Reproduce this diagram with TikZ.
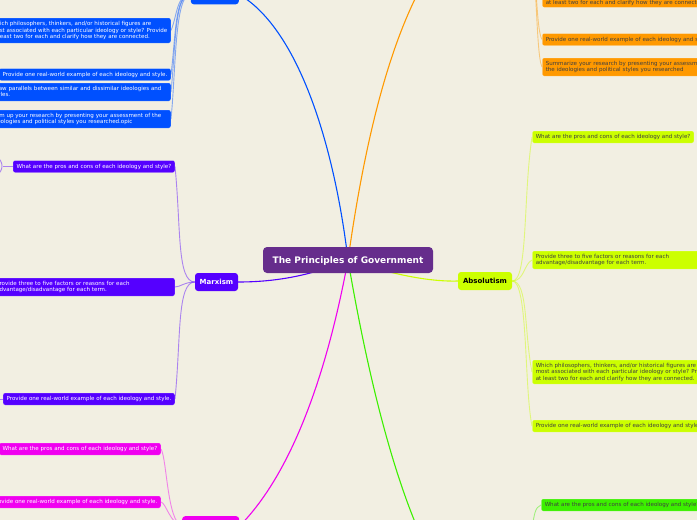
\documentclass[tikz,border=0pt]{standalone}
\usepackage{fontspec}
\setmainfont{DejaVu Sans}
\usetikzlibrary{backgrounds}
\definecolor{paper}{HTML}{F2EFE2}
\definecolor{rootcol}{HTML}{662D8C}
\definecolor{bluecol}{HTML}{0050FF}
\definecolor{purplecol}{HTML}{5500FF}
\definecolor{magentacol}{HTML}{F000F0}
\definecolor{orangecol}{HTML}{FF9900}
\definecolor{limecol}{HTML}{CCFF00}
\definecolor{greencol}{HTML}{3CF000}
\tikzset{
    leaf/.style={rounded corners=2, inner xsep=3.5, inner ysep=0, minimum height=12, align=left, draw=white, draw opacity=0.25, line width=0.5, font=\fontsize{5.55}{6.5}\selectfont},
    wide/.style={text width=175},
    topic/.style={rounded corners=3, minimum height=18, inner sep=0, text depth=0, font=\fontsize{7}{8}\selectfont\bfseries},
    dark/.style={text=black!75},
    main/.style={line width=1.1},
    twig/.style={line width=0.9, opacity=0.45}
}

\begin{document}
\begin{tikzpicture}[x=1pt, y=-1pt]
    \useasboundingbox (0, 0) rectangle (697, 520);
    \clip (0, 0) rectangle (697, 520);

    \node[rounded corners=4, fill=rootcol, text=white, minimum width=170, minimum height=26, inner sep=0, text depth=0, font=\fontsize{9}{10}\selectfont\bfseries] (root) at (348, 260) {The Principles of Government};

    \node[topic, fill=bluecol, minimum width=48, minimum height=20, anchor=south east] (blueTopic) at (239, 4.5) {};
    \node[topic, fill=purplecol, text=white, minimum width=43] (marxism) at (216.5, 282) {Marxism};
    \node[topic, fill=magentacol, minimum width=57, minimum height=20, anchor=north west] (magentaTopic) at (182, 516) {};
    \node[topic, fill=limecol, minimum width=54] (absolutism) at (485, 281) {Absolutism};
    \coordinate (orangeTopic) at (425, -20);
    \coordinate (orangeHub) at (530, -60);
    \coordinate (greenTopic) at (425, 545);
    \coordinate (greenTwig) at (532, 530);

    % blue
    \node[leaf, fill=bluecol, text=white, anchor=east, minimum height=25] (blueWhich) at (171, 30.5) {Which philosophers, thinkers, and/or historical figures are\\most associated with each particular ideology or style? Provide\\at least two for each and clarify how they are connected.};
    \node[leaf, fill=bluecol, text=white, anchor=east] (blueReal) at (171, 74.5) {Provide one real-world example of each ideology and style.};
    \node[leaf, wide, fill=bluecol, text=white, anchor=east, minimum height=18] (blueDraw) at (171, 92) {Draw parallels between similar and dissimilar ideologies and\\styles.};
    \node[leaf, wide, fill=bluecol, text=white, anchor=east, minimum height=18] (blueSum) at (171, 119) {Sum up your research by presenting your assessment of the\\ideologies and political styles you researched.opic};

    % purple
    \node[leaf, fill=purplecol, text=white, anchor=east] (purplePros) at (175, 166.5) {What are the pros and cons of each ideology and style?};
    \node[leaf, wide, fill=purplecol, text=white, anchor=east, minimum height=18] (purpleThree) at (175, 287) {Provide three to five factors or reasons for each\\advantage/disadvantage for each term.};
    \node[leaf, fill=purplecol, text=white, anchor=east] (purpleReal) at (175, 399) {Provide one real-world example of each ideology and style.};
    \coordinate (purpleEndA) at (-4, 157);
    \coordinate (purpleEndB) at (-4, 175);
    \coordinate (purpleEndC) at (-4, 399);
    \coordinate (purpleFork) at (3, 166.5);

    % magenta
    \node[leaf, fill=magentacol, text=white, anchor=east] (magentaPros) at (161, 449) {What are the pros and cons of each ideology and style?};
    \node[leaf, fill=magentacol, text=white, anchor=east] (magentaReal) at (161, 502) {Provide one real-world example of each ideology and style.};

    % orange
    \node[leaf, wide, dark, fill=orangecol, anchor=south west, text height=28, text depth=3] (orangeWhich) at (542, 7.5) {at least two for each and clarify how they are connected.};
    \node[leaf, dark, fill=orangecol, anchor=west] (orangeReal) at (542, 39.5) {Provide one real-world example of each ideology and style.};
    \node[leaf, wide, dark, fill=orangecol, anchor=west, minimum height=18] (orangeSum) at (542, 67) {Summarize your research by presenting your assessment of\\the ideologies and political styles you researched};

    % lime
    \node[leaf, dark, fill=limecol, anchor=west] (limePros) at (532, 137) {What are the pros and cons of each ideology and style?};
    \node[leaf, wide, dark, fill=limecol, anchor=west, minimum height=18] (limeThree) at (532, 260) {Provide three to five factors or reasons for each\\advantage/disadvantage for each term.};
    \node[leaf, dark, fill=limecol, anchor=west, minimum height=24] (limeWhich) at (532, 372) {Which philosophers, thinkers, and/or historical figures are\\most associated with each particular ideology or style? Provide\\at least two for each and clarify how they are connected.};
    \node[leaf, dark, fill=limecol, anchor=west] (limeReal) at (532, 426) {Provide one real-world example of each ideology and style.};

    % green
    \node[leaf, dark, fill=greencol, anchor=west] (greenPros) at (541, 505) {What are the pros and cons of each ideology and style?};

    \begin{pgfonlayer}{background}
        \fill[paper] (0, 0) rectangle (697, 520);

        \draw[main, bluecol] (root.center) .. controls (335, 150) and (300, 30) .. (blueTopic.east);
        \draw[main, orangecol] (root.center) .. controls (362, 160) and (385, 50) .. (orangeTopic);
        \draw[main, purplecol] (root.center) .. controls (315, 274) and (280, 282) .. (marxism.east);
        \draw[main, limecol] (root.center) .. controls (385, 272) and (425, 282) .. (absolutism.west);
        \draw[main, magentacol] (root.center) .. controls (335, 330) and (305, 460) .. (magentaTopic.east);
        \draw[main, greencol] (root.center) .. controls (360, 330) and (385, 460) .. (greenTopic);

        \draw[twig, bluecol] (blueTopic.west) .. controls +(-14, 0) and +(6, -14) .. (blueWhich.east);
        \draw[twig, bluecol] (blueTopic.west) .. controls +(-16, 0) and +(5, -40) .. (blueReal.east);
        \draw[twig, bluecol] (blueTopic.west) .. controls +(-16, 0) and +(5, -50) .. (blueDraw.east);
        \draw[twig, bluecol] (blueTopic.west) .. controls +(-16, 0) and +(5, -50) .. (blueSum.east);

        \draw[twig, purplecol] (marxism.west) .. controls +(-18, 0) and +(6, 60) .. (purplePros.east);
        \draw[twig, purplecol] (marxism.west) .. controls +(-10, 0) and +(5, 0) .. (purpleThree.east);
        \draw[twig, purplecol] (marxism.west) .. controls +(-18, 0) and +(6, -60) .. (purpleReal.east);
        \draw[twig, purplecol] (purplePros.west) -- (purpleFork);
        \draw[twig, purplecol] (purpleEndA) .. controls (4, 160) and (4, 172) .. (purpleEndB);
        \draw[twig, purplecol] (purpleReal.west) -- (purpleEndC);

        \draw[twig, magentacol] (magentaTopic.west) .. controls +(-15, -5) and +(6, 10) .. (magentaPros.east);
        \draw[twig, magentacol] (magentaTopic.west) .. controls +(-12, -3) and +(5, 1) .. (magentaReal.east);

        \draw[twig, orangecol] (orangeHub) .. controls (537, -40) and (537, -10) .. (orangeWhich.west);
        \draw[twig, orangecol] (orangeHub) .. controls (537, -30) and (536, 30) .. (orangeReal.west);
        \draw[twig, orangecol] (orangeHub) .. controls (537, -30) and (536, 55) .. (orangeSum.west);

        \draw[twig, limecol] (absolutism.east) .. controls +(16, 0) and +(-9, 60) .. (limePros.west);
        \draw[twig, limecol] (absolutism.east) .. controls +(12, 0) and +(-8, 4) .. (limeThree.west);
        \draw[twig, limecol] (absolutism.east) .. controls +(16, 0) and +(-8, -40) .. (limeWhich.west);
        \draw[twig, limecol] (absolutism.east) .. controls +(16, 0) and +(-8, -40) .. (limeReal.west);

        \draw[twig, greencol] (greenTwig) .. controls (534, 515) and (535, 507) .. (greenPros.west);
    \end{pgfonlayer}
\end{tikzpicture}
\end{document}
